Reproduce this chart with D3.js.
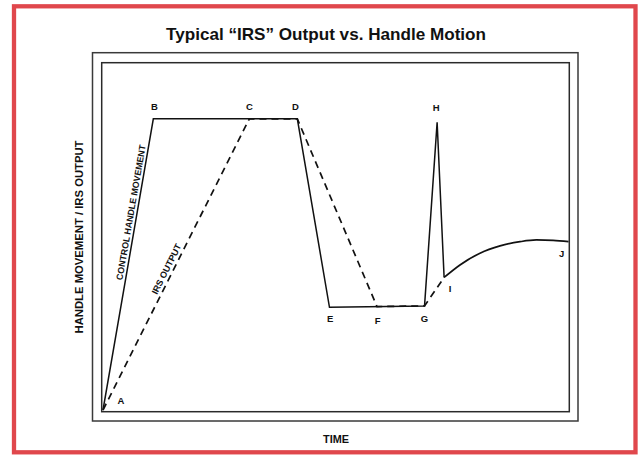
<!DOCTYPE html>
<html><head><meta charset="utf-8">
<script src="https://cdn.jsdelivr.net/npm/d3@7/dist/d3.min.js"></script>
<style>html,body{margin:0;padding:0;background:#fff;}svg{display:block;font-family:"Liberation Sans",Arial,sans-serif;}</style>
</head><body>
<script>
// ---- data (time units 0-100, output units 0-100) ----
const handleNames = ["A","B","D","E","G","H","I"];
const handleTime  = [0, 10.8, 41.7, 48.6, 69.0, 71.7, 73.2];
const handleValue = [0, 83.9, 83.9, 29.6, 30.0, 82.9, 38.2];

const irsNames = ["A","C","D","F","G","I"];
const irsTime  = [0, 31.4, 41.7, 58.8, 69.0, 73.2];
const irsValue = [0, 83.9, 83.9, 29.8, 30.0, 38.2];

const tailTime  = [73.2, 76.6, 80.9, 85.2, 89.5, 93.0, 96.6, 99.9];
const tailValue = [38.2, 41.8, 45.2, 47.3, 48.5, 49.0, 48.9, 48.5];

const pointLabels = ["A","B","C","D","E","F","G","H","I","J"];
const title = "Typical \u201CIRS\u201D Output vs. Handle Motion";
const xTitle = "TIME";
const yTitle = "HANDLE MOVEMENT / IRS OUTPUT";
const handleText = "CONTROL HANDLE MOVEMENT";
const irsText = "IRS OUTPUT";

// ---- layout ----
const W = 639, H = 455;
const svg = d3.select("body").append("svg").attr("width", W).attr("height", H);

const x = d3.scaleLinear().domain([0, 100]).range([103, 569]);
const y = d3.scaleLinear().domain([0, 100]).range([410, 63]);

// red outer border
svg.append("rect").attr("x", 14).attr("y", 6.3).attr("width", 621.5).attr("height", 446)
  .attr("fill", "#fff").attr("stroke", "#e0474c").attr("stroke-width", 4.3);

// title
svg.append("text").attr("x", 326).attr("y", 39.5).attr("text-anchor", "middle")
  .attr("font-size", 17).attr("font-weight", "bold").attr("fill", "#111")
  .attr("textLength", 320).attr("lengthAdjust", "spacingAndGlyphs").text(title);

// frames
svg.append("rect").attr("x", 92.5).attr("y", 52.7).attr("width", 485.5).attr("height", 368.3)
  .attr("fill", "none").attr("stroke", "#3a3a3a").attr("stroke-width", 1.5);
svg.append("rect").attr("x", 101.7).attr("y", 62.7).attr("width", 467.6).attr("height", 349)
  .attr("fill", "none").attr("stroke", "#2a2a2a").attr("stroke-width", 1.5);

// axis titles
svg.append("text").attr("x", 336).attr("y", 443).attr("text-anchor", "middle")
  .attr("font-size", 11).attr("font-weight", "bold").attr("fill", "#111")
  .attr("textLength", 26).attr("lengthAdjust", "spacingAndGlyphs").text(xTitle);
svg.append("text").attr("transform", `translate(83,237) rotate(-90)`).attr("text-anchor", "middle")
  .attr("font-size", 11).attr("font-weight", "bold").attr("fill", "#111")
  .attr("textLength", 193).attr("lengthAdjust", "spacingAndGlyphs").text(yTitle);

const line = d3.line().x(d => x(d[0])).y(d => y(d[1]));
const handlePts = handleTime.map((t, i) => [t, handleValue[i]]);
const irsPts = irsTime.map((t, i) => [t, irsValue[i]]);
const tailPts = tailTime.map((t, i) => [t, tailValue[i]]);

// IRS output (dashed)
svg.append("path").attr("d", line(irsPts)).attr("fill", "none").attr("stroke", "#111")
  .attr("stroke-width", 1.7).attr("stroke-dasharray", "7,5");
// handle movement (solid)
svg.append("path").attr("d", line(handlePts)).attr("fill", "none").attr("stroke", "#111")
  .attr("stroke-width", 1.5).attr("stroke-linejoin", "miter");
// shared tail curve
svg.append("path").attr("d", d3.line().x(d => x(d[0])).y(d => y(d[1])).curve(d3.curveMonotoneX)(tailPts))
  .attr("fill", "none").attr("stroke", "#111").attr("stroke-width", 1.7);

// point labels
const allPts = {};
handleNames.forEach((n, i) => allPts[n] = [handleTime[i], handleValue[i]]);
irsNames.forEach((n, i) => allPts[n] = [irsTime[i], irsValue[i]]);
allPts["J"] = [tailTime[tailTime.length - 1], tailValue[tailValue.length - 1]];
const off = {A:[18,-6], B:[1,-8.5], C:[0,-8.5], D:[-2,-8.5], E:[0.7,15.2], F:[0.7,17.5],
             G:[0,16.5], H:[-1,-11.8], I:[6,14.2], J:[-7,15.5]};
svg.append("g").selectAll("text").data(pointLabels).join("text")
  .attr("x", d => x(allPts[d][0]) + off[d][0])
  .attr("y", d => y(allPts[d][1]) + off[d][1])
  .attr("text-anchor", "middle").attr("font-size", 9.5).attr("font-weight", "bold").attr("fill", "#111")
  .text(d => d);

// rotated series labels along their segments
function segLabel(p0, p1, t, offset, txt, len) {
  const x0 = x(p0[0]), y0 = y(p0[1]), x1 = x(p1[0]), y1 = y(p1[1]);
  const px = x0 + (x1 - x0) * t, py = y0 + (y1 - y0) * t;
  const ang = Math.atan2(y1 - y0, x1 - x0) * 180 / Math.PI;
  svg.append("text").attr("transform", `translate(${px},${py}) rotate(${ang})`)
    .attr("x", 0).attr("y", offset).attr("text-anchor", "middle")
    .attr("font-size", 9).attr("font-weight", "bold").attr("fill", "#111")
    .attr("textLength", len).attr("lengthAdjust", "spacingAndGlyphs").text(txt);
}
segLabel(handlePts[0], handlePts[1], 0.675, -3, handleText, 137);
segLabel(irsPts[0], irsPts[1], 0.474, -3.5, irsText, 55);
</script>
</body></html>
